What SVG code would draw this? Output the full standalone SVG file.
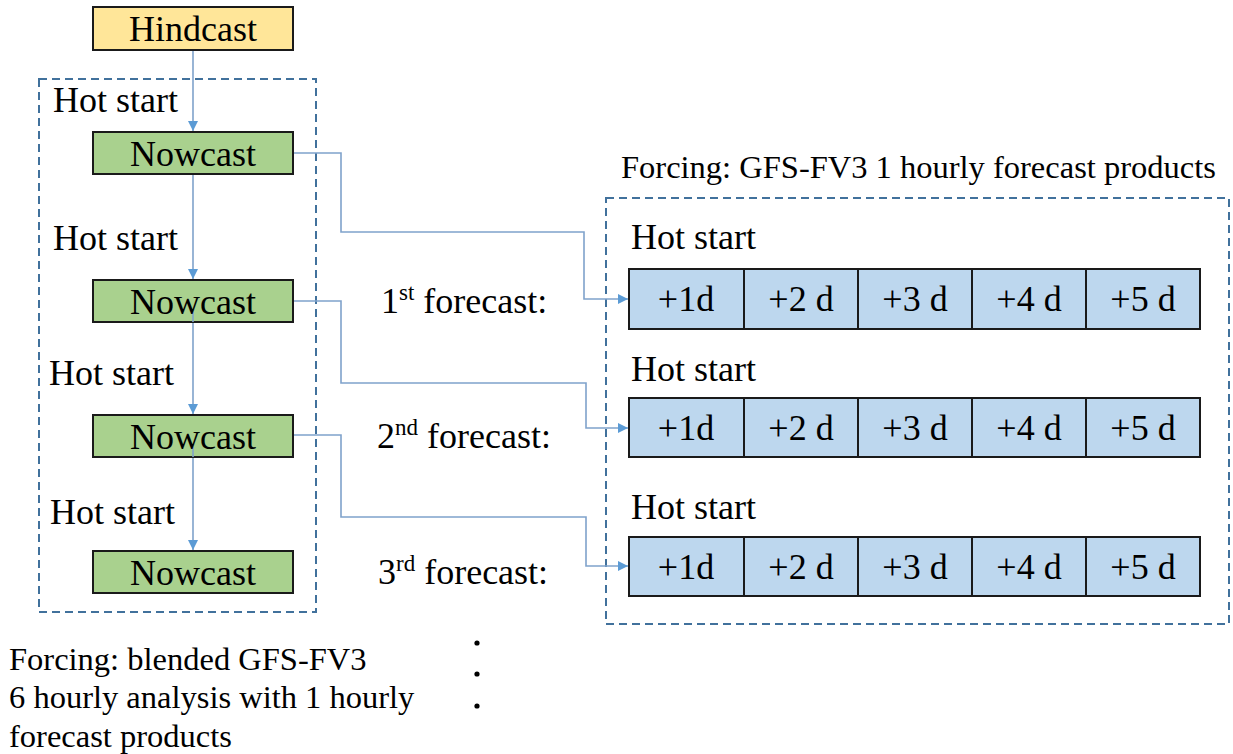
<svg xmlns="http://www.w3.org/2000/svg" width="1233" height="754" viewBox="0 0 1233 754">
  <style>
    text { font-family: "Liberation Serif", "Times New Roman", serif; fill: #000; }
    .lbl { font-size: 36px; }
    .mid { text-anchor: middle; }
    .note { font-size: 32.5px; }
    .sup { font-size: 23px; }
    .box { stroke: #1a1a1a; stroke-width: 2; }
    .hind { fill: #FFE699; }
    .now { fill: #A9D18E; }
    .cell { fill: #BDD7EE; }
    .frame { fill: none; stroke: #41719C; stroke-width: 2; stroke-dasharray: 8 5; }
    .link { fill: none; stroke: #7FA2CB; stroke-width: 1.6; }
  </style>
  <defs>
    <marker id="arrow" viewBox="0 0 10 10" refX="10" refY="5" markerWidth="10" markerHeight="10" markerUnits="userSpaceOnUse" orient="auto">
      <path d="M0,0 L10,5 L0,10 z" fill="#5B9BD5"/>
    </marker>
  </defs>

  <rect width="1233" height="754" fill="#fff"/>

  <!-- dashed grouping frames -->
  <rect class="frame" x="39" y="79" width="277" height="533"/>
  <rect class="frame" x="606" y="198" width="623" height="426"/>

  <!-- connectors -->
  <g id="connectors">
    <path class="link" d="M193,50 V131" marker-end="url(#arrow)"/>
    <path class="link" d="M193,174 V279" marker-end="url(#arrow)"/>
    <path class="link" d="M193,312 V414" marker-end="url(#arrow)"/>
    <path class="link" d="M193,447 V550" marker-end="url(#arrow)"/>
    <path class="link" d="M293,153 H341 V232 H584 V299 H628" marker-end="url(#arrow)"/>
    <path class="link" d="M293,301 H341 V383 H586 V428 H628" marker-end="url(#arrow)"/>
    <path class="link" d="M293,435 H341 V517 H586 V566 H628" marker-end="url(#arrow)"/>
  </g>

  <g id="hindcast">
    <rect class="box hind" x="93" y="7" width="200" height="43"/>
    <text class="lbl mid" x="193" y="41">Hindcast</text>
  </g>

  <g id="nowcast-1">
    <rect class="box now" x="93" y="132" width="200" height="42"/>
    <text class="lbl mid" x="193" y="166">Nowcast</text>
  </g>
  <g id="nowcast-2">
    <rect class="box now" x="93" y="280" width="200" height="42"/>
    <line class="link" x1="193" y1="312" x2="193" y2="322"/>
    <text class="lbl mid" x="193" y="314">Nowcast</text>
  </g>
  <g id="nowcast-3">
    <rect class="box now" x="93" y="415" width="200" height="42"/>
    <line class="link" x1="193" y1="447" x2="193" y2="457"/>
    <text class="lbl mid" x="193" y="449">Nowcast</text>
  </g>
  <g id="nowcast-4">
    <rect class="box now" x="93" y="551" width="200" height="42"/>
    <text class="lbl mid" x="193" y="585">Nowcast</text>
  </g>

  <!-- hot start labels, nowcast chain -->
  <g id="nowcast-labels">
    <text class="lbl" x="53" y="112">Hot start</text>
    <text class="lbl" x="53" y="250">Hot start</text>
    <text class="lbl" x="49" y="385">Hot start</text>
    <text class="lbl" x="50" y="524">Hot start</text>
  </g>

  <!-- forecast run labels -->
  <g id="forecast-labels">
    <text class="lbl" x="381" y="313">1<tspan class="sup" dy="-13">st</tspan><tspan dy="13"> forecast:</tspan></text>
    <text class="lbl" x="377" y="448">2<tspan class="sup" dy="-13">nd</tspan><tspan dy="13"> forecast:</tspan></text>
    <text class="lbl" x="378" y="584">3<tspan class="sup" dy="-13">rd</tspan><tspan dy="13"> forecast:</tspan></text>
  </g>

  <text class="note" x="621" y="178">Forcing: GFS-FV3 1 hourly forecast products</text>

  <g id="forecast-1">
    <text class="lbl" x="631" y="249">Hot start</text>
    <rect class="box cell" x="629" y="269" width="115" height="60"/>
    <rect class="box cell" x="744" y="269" width="114" height="60"/>
    <rect class="box cell" x="858" y="269" width="114" height="60"/>
    <rect class="box cell" x="972" y="269" width="114" height="60"/>
    <rect class="box cell" x="1086" y="269" width="114" height="60"/>
    <text class="lbl mid" x="686" y="311">+1d</text>
    <text class="lbl mid" x="801" y="311">+2 d</text>
    <text class="lbl mid" x="915" y="311">+3 d</text>
    <text class="lbl mid" x="1029" y="311">+4 d</text>
    <text class="lbl mid" x="1143" y="311">+5 d</text>
  </g>

  <g id="forecast-2">
    <text class="lbl" x="631" y="381">Hot start</text>
    <rect class="box cell" x="629" y="398" width="115" height="59"/>
    <rect class="box cell" x="744" y="398" width="114" height="59"/>
    <rect class="box cell" x="858" y="398" width="114" height="59"/>
    <rect class="box cell" x="972" y="398" width="114" height="59"/>
    <rect class="box cell" x="1086" y="398" width="114" height="59"/>
    <text class="lbl mid" x="686" y="440">+1d</text>
    <text class="lbl mid" x="801" y="440">+2 d</text>
    <text class="lbl mid" x="915" y="440">+3 d</text>
    <text class="lbl mid" x="1029" y="440">+4 d</text>
    <text class="lbl mid" x="1143" y="440">+5 d</text>
  </g>

  <g id="forecast-3">
    <text class="lbl" x="631" y="519">Hot start</text>
    <rect class="box cell" x="629" y="537" width="115" height="59"/>
    <rect class="box cell" x="744" y="537" width="114" height="59"/>
    <rect class="box cell" x="858" y="537" width="114" height="59"/>
    <rect class="box cell" x="972" y="537" width="114" height="59"/>
    <rect class="box cell" x="1086" y="537" width="114" height="59"/>
    <text class="lbl mid" x="686" y="579">+1d</text>
    <text class="lbl mid" x="801" y="579">+2 d</text>
    <text class="lbl mid" x="915" y="579">+3 d</text>
    <text class="lbl mid" x="1029" y="579">+4 d</text>
    <text class="lbl mid" x="1143" y="579">+5 d</text>
  </g>

  <g id="nowcast-forcing">
    <text class="note" x="9" y="670">Forcing: blended GFS-FV3</text>
    <text class="note" x="9" y="708">6 hourly analysis with 1 hourly</text>
    <text class="note" x="9" y="747">forecast products</text>
  </g>

  <!-- continuation dots -->
  <g id="ellipsis" fill="#000">
    <circle cx="477" cy="643" r="2.6"/>
    <circle cx="477" cy="674" r="2.6"/>
    <circle cx="477" cy="706" r="2.6"/>
  </g>
</svg>
